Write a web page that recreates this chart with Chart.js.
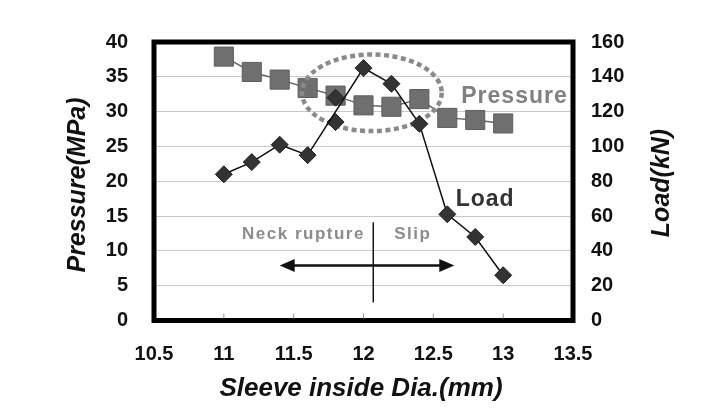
<!DOCTYPE html>
<html>
<head>
<meta charset="utf-8">
<script src="https://cdn.jsdelivr.net/npm/chart.js@4.4.1/dist/chart.umd.min.js"></script>
<style>
  html, body { margin: 0; padding: 0; background: #fff; }
  #wrap { width: 727px; height: 418px; }
</style>
</head>
<body>
<div id="wrap"><canvas id="chart" width="727" height="418"></canvas></div>
<script>
// values
const diaPressure = [11, 11.2, 11.4, 11.6, 11.8, 12, 12.2, 12.4, 12.6, 12.8, 13];
const pressure = [37.9, 35.7, 34.6, 33.4, 32.3, 30.9, 30.7, 31.8, 29.1, 28.8, 28.3];
const diaLoad = [11, 11.2, 11.4, 11.6, 12, 12.2, 12.4, 12.6, 12.8, 13];
const load = [84, 91, 101, 95, 145, 136, 113, 61, 48, 26];
// two stray load markers at 11.8 that the line does not pass through
const diaLoadExtra = [11.8, 11.8];
const loadExtra = [128, 114];
const xTicks = [10.5, 11, 11.5, 12, 12.5, 13, 13.5];
const pressureTicks = [0, 5, 10, 15, 20, 25, 30, 35, 40];
const loadTicks = [0, 20, 40, 60, 80, 100, 120, 140, 160];

const FONT = "'Liberation Sans', Arial, sans-serif";
const toPts = (xs, ys) => xs.map((x, i) => ({ x: x, y: ys[i] }));

const notes = {
    id: 'notes',
    afterDatasetDraw(chart, args) {
        // dotted ellipse sits above the pressure squares but under the load line
        if (args.index !== 2) return;
        const { ctx, scales: { x, y } } = chart;
        const cx = x.getPixelForValue(12.06), cy = y.getPixelForValue(32.7);
        const rx = x.getPixelForValue(12.56) - cx;
        const ry = cy - y.getPixelForValue(38.2);
        ctx.save();
        ctx.strokeStyle = '#8a8a8a';
        ctx.lineWidth = 4.5;
        ctx.setLineDash([5, 3.5]);
        ctx.beginPath();
        ctx.ellipse(cx, cy, rx, ry, 0, 0, Math.PI * 2);
        ctx.stroke();
        ctx.restore();
    },
    afterDraw(chart) {
        const { ctx, chartArea: a, scales: { x, y } } = chart;
        ctx.save();

        // heavy frame
        ctx.strokeStyle = '#000';
        ctx.lineWidth = 5;
        ctx.strokeRect(a.left, a.top, a.right - a.left, a.bottom - a.top);

        // small inner ticks on the bottom edge
        ctx.strokeStyle = '#999';
        ctx.lineWidth = 1;
        xTicks.slice(1, -1).forEach(v => {
            const px = x.getPixelForValue(v);
            ctx.beginPath();
            ctx.moveTo(px, a.bottom - 2);
            ctx.lineTo(px, a.bottom - 7);
            ctx.stroke();
        });

        // series labels
        ctx.textBaseline = 'middle';
        ctx.textAlign = 'left';
        ctx.font = 'bold 23px ' + FONT;
        ctx.letterSpacing = '1px';
        ctx.fillStyle = '#808080';
        ctx.fillText('Pressure', x.getPixelForValue(12.7), y.getPixelForValue(32.1));
        ctx.fillStyle = '#333';
        ctx.fillText('Load', x.getPixelForValue(12.66), y.getPixelForValue(17.4));

        ctx.font = 'bold 17px ' + FONT;
        ctx.letterSpacing = '1.5px';
        ctx.fillStyle = '#8c8c8c';
        ctx.textAlign = 'right';
        ctx.fillText('Neck rupture', x.getPixelForValue(12.01), y.getPixelForValue(12.4));
        ctx.textAlign = 'left';
        ctx.fillText('Slip', x.getPixelForValue(12.22), y.getPixelForValue(12.4));
        ctx.letterSpacing = '0px';

        // divider and double arrow
        ctx.strokeStyle = '#111';
        ctx.fillStyle = '#111';
        ctx.lineWidth = 1.5;
        const vx = x.getPixelForValue(12.07);
        ctx.beginPath();
        ctx.moveTo(vx, y.getPixelForValue(14.1));
        ctx.lineTo(vx, y.getPixelForValue(2.6));
        ctx.stroke();

        const ay = y.getPixelForValue(7.9);
        const ax1 = x.getPixelForValue(11.4), ax2 = x.getPixelForValue(12.65);
        ctx.lineWidth = 2.5;
        ctx.beginPath();
        ctx.moveTo(ax1 + 10, ay);
        ctx.lineTo(ax2 - 10, ay);
        ctx.stroke();
        ctx.beginPath();
        ctx.moveTo(ax1, ay);
        ctx.lineTo(ax1 + 15, ay - 6.5);
        ctx.lineTo(ax1 + 15, ay + 6.5);
        ctx.closePath();
        ctx.moveTo(ax2, ay);
        ctx.lineTo(ax2 - 15, ay - 6.5);
        ctx.lineTo(ax2 - 15, ay + 6.5);
        ctx.closePath();
        ctx.fill();

        // axis titles
        ctx.fillStyle = '#111';
        ctx.textAlign = 'center';
        ctx.font = 'italic bold 25px ' + FONT;
        ctx.save();
        ctx.translate(78, 185);
        ctx.rotate(-Math.PI / 2);
        ctx.fillText('Pressure(MPa)', 0, 0);
        ctx.restore();
        ctx.save();
        ctx.translate(662, 183);
        ctx.rotate(-Math.PI / 2);
        ctx.fillText('Load(kN)', 0, 0);
        ctx.restore();
        ctx.font = 'italic bold 26px ' + FONT;
        ctx.fillText('Sleeve inside Dia.(mm)', 361, 389);

        ctx.restore();
    },
};

new Chart(document.getElementById('chart'), {
    type: 'scatter',
    data: {
        datasets: [
            {
                label: 'Load',
                data: toPts(diaLoad, load),
                yAxisID: 'y2',
                showLine: true,
                borderColor: '#111',
                borderWidth: 1.5,
                pointStyle: 'rectRot',
                pointRadius: 8.5,
                pointBackgroundColor: '#333',
                pointBorderColor: '#222',
                pointBorderWidth: 1,
            },
            {
                label: 'Load extra',
                data: toPts(diaLoadExtra, loadExtra),
                yAxisID: 'y2',
                showLine: false,
                pointStyle: 'rectRot',
                pointRadius: 8.5,
                pointBackgroundColor: '#333',
                pointBorderColor: '#222',
                pointBorderWidth: 1,
            },
            {
                label: 'Pressure',
                data: toPts(diaPressure, pressure),
                yAxisID: 'y',
                showLine: true,
                borderColor: '#666',
                borderWidth: 1.5,
                pointStyle: 'rect',
                pointRadius: 13.5,
                pointBackgroundColor: '#6f6f6f',
                pointBorderColor: '#5e5e5e',
                pointBorderWidth: 1,
            },
        ],
    },
    options: {
        responsive: false,
        animation: false,
        layout: { padding: { top: 42, left: 0, right: 0, bottom: 0 } },
        plugins: {
            legend: { display: false },
            tooltip: { enabled: false },
        },
        scales: {
            x: {
                type: 'linear',
                min: 10.5,
                max: 13.5,
                afterBuildTicks: s => { s.ticks = xTicks.map(v => ({ value: v })); },
                afterFit: s => { s.height = 97.5; },
                grid: { display: false, drawTicks: false },
                border: { display: false },
                ticks: {
                    color: '#111',
                    padding: 22,
                    font: { family: FONT, size: 20, weight: 'bold' },
                    callback: v => String(v),
                },
            },
            y: {
                position: 'left',
                min: 0,
                max: 40,
                afterBuildTicks: s => { s.ticks = pressureTicks.map(v => ({ value: v })); },
                afterFit: s => { s.width = 154; },
                grid: { color: '#c8c8c8', lineWidth: 1, drawTicks: false },
                border: { display: false },
                ticks: { color: '#111', padding: 26, font: { family: FONT, size: 20, weight: 'bold' } },
            },
            y2: {
                position: 'right',
                min: 0,
                max: 160,
                afterBuildTicks: s => { s.ticks = loadTicks.map(v => ({ value: v })); },
                afterFit: s => { s.width = 154; },
                grid: { display: false, drawTicks: false },
                border: { display: false },
                ticks: { color: '#111', padding: 18, font: { family: FONT, size: 20, weight: 'bold' } },
            },
        },
    },
    plugins: [notes],
});
</script>
</body>
</html>
